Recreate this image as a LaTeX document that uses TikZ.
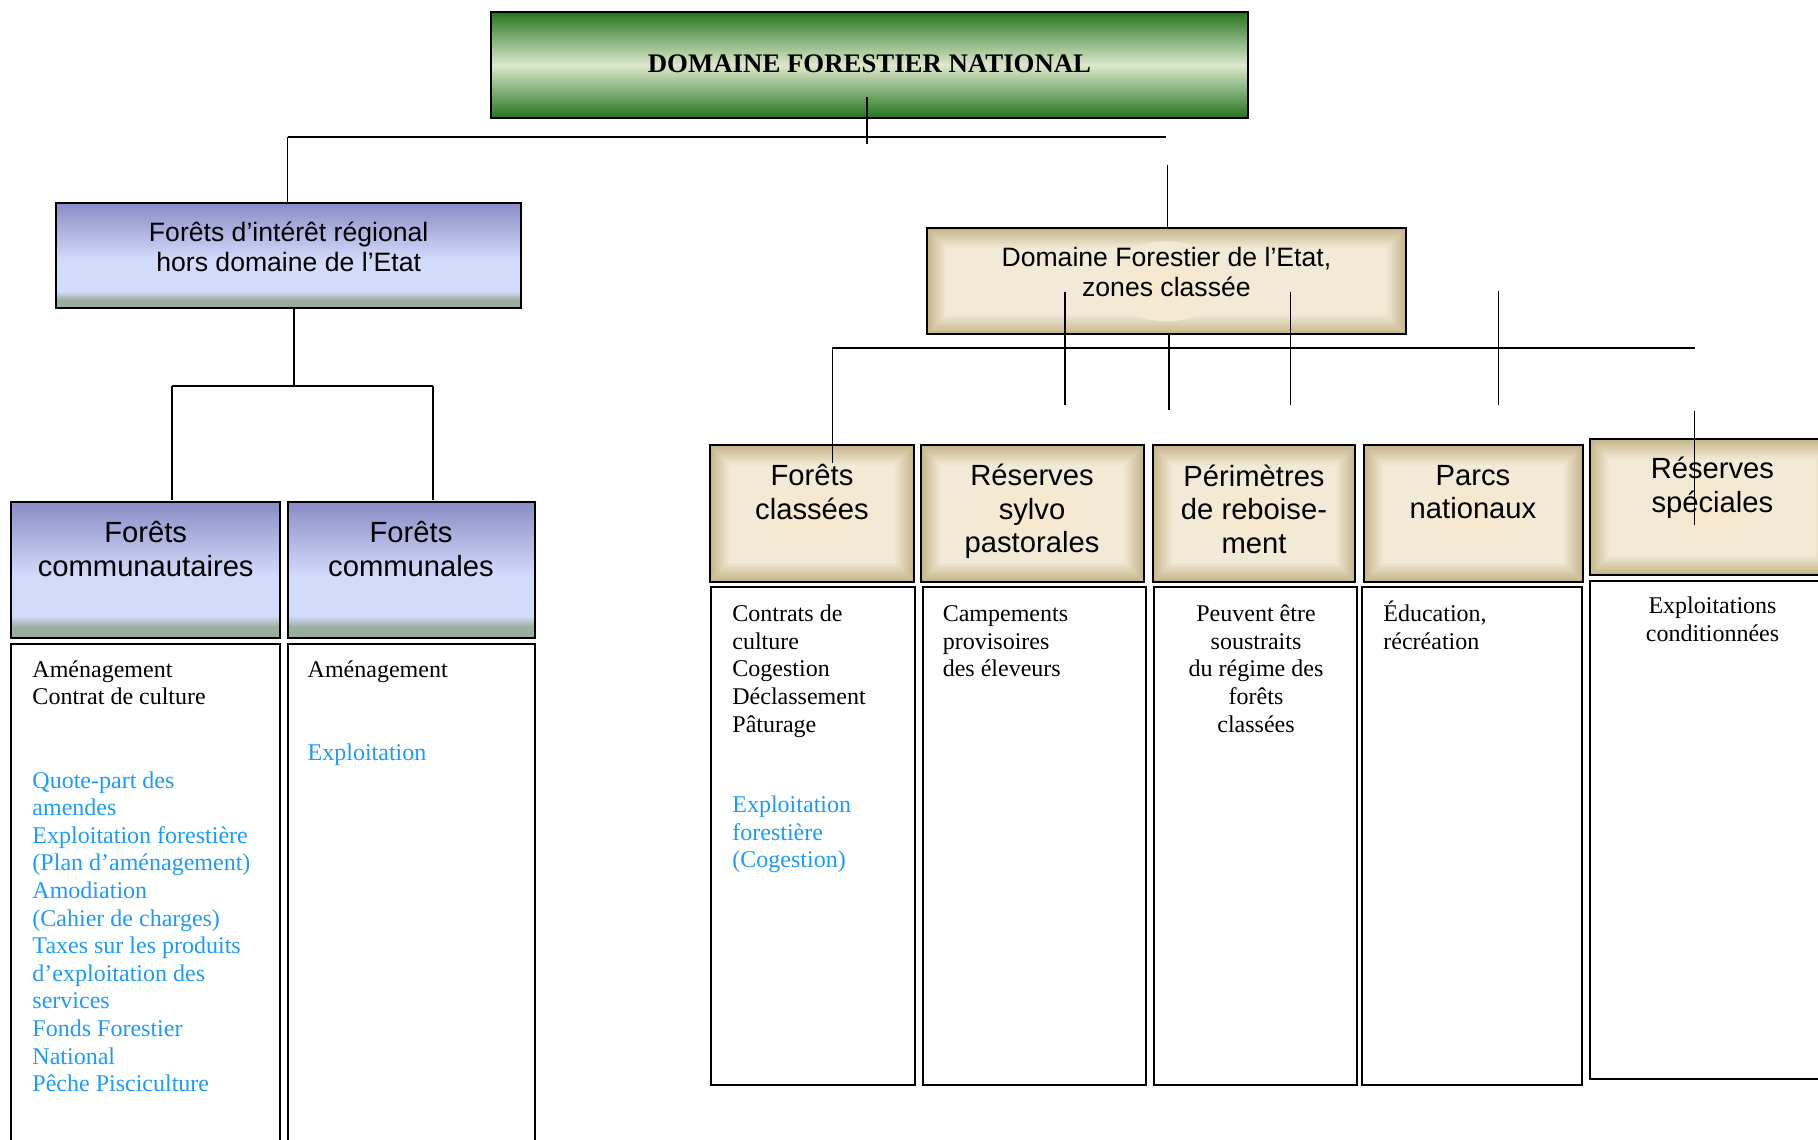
\documentclass[tikz,border=0pt]{standalone}
\usepackage{fontspec}
\setmainfont{Liberation Serif}
\setsansfont{Liberation Sans}
\usetikzlibrary{calc}
\definecolor{gD}{HTML}{23741F}
\definecolor{gL}{HTML}{DCE8CB}
\definecolor{bT}{HTML}{8A8CC6}
\definecolor{bL}{HTML}{D1DBFA}
\definecolor{bB}{HTML}{9AAE9F}
\definecolor{tD}{HTML}{C6B68C}
\definecolor{tL}{HTML}{F2EAD6}
\definecolor{tP}{HTML}{F9E9CC}
\definecolor{lblue}{RGB}{30,155,250}
\pgfdeclareverticalshading{blueshade}{100bp}{color(0bp)=(bB); color(25bp)=(bB); color(29bp)=(bB); color(33bp)=(bL); color(48bp)=(bL); color(75bp)=(bT); color(100bp)=(bT)}
\tikzset{
 bx/.style={anchor=north west, inner sep=0pt, outer sep=0pt, draw=black, line width=1pt},
 greenbox/.style={bx, top color=gD, bottom color=gD, middle color=gL},
 bluebox/.style={bx, shading=blueshade},
 tanbox/.style={bx, fill=tD, path picture={
   \foreach \i in {0,...,12}{
     \pgfmathtruncatemacro\pc{\i*100/12}
     \fill[tL!\pc!tD] ([shift={(\i*0.8pt,\i*0.8pt)}]path picture bounding box.south west) rectangle ([shift={(-\i*0.8pt,-\i*0.8pt)}]path picture bounding box.north east);
   }
   \shade[inner color=tP, outer color=tL] (path picture bounding box.center) ellipse (30pt and 20pt);
 }},
 cbox/.style={bx, fill=white},
 conn/.style={draw=black, line width=0.8pt},
 hdA/.style={font=\fontsize{14.6}{16.8}\selectfont\sffamily, align=center, inner sep=0pt},
 hdB/.style={font=\fontsize{13.3}{15.2}\selectfont\sffamily, align=center, inner sep=0pt},
 body/.style={font=\fontsize{12}{13.8}\selectfont, align=left, inner sep=0pt, anchor=north west},
 bodyc/.style={font=\fontsize{12}{13.8}\selectfont, align=center, inner sep=0pt, anchor=north},
}
\newcommand\mkbox[6]{\node[#2, minimum width={(#5-#3)*0.5pt}, minimum height={(#6-#4)*0.5pt}] (#1) at (#3,#4) {};}
\begin{document}
\begin{tikzpicture}[x=0.5pt,y=-0.5pt]
\useasboundingbox (0,0) rectangle (1818,1139);
\fill[white] (0,0) rectangle (1818,1139);
\clip (0,0) rectangle (1818,1139);
% boxes
\mkbox{top}{greenbox}{491.4}{11.6}{1247.7}{118.3}
\mkbox{fir}{bluebox}{56.4}{203}{521.4}{308.4}
\mkbox{fcom}{bluebox}{11.4}{502.3}{280}{637.7}
\mkbox{fcomm}{bluebox}{287.9}{502.3}{534.6}{637.7}
\mkbox{ccom}{cbox}{11.4}{644.3}{280}{1160}
\mkbox{ccomm}{cbox}{287.9}{644.3}{534.6}{1160}
\mkbox{dfe}{tanbox}{926.7}{228.3}{1405.9}{334.3}
\mkbox{fcl}{tanbox}{710}{445.3}{913.9}{581.7}
\mkbox{rsp}{tanbox}{921}{445.3}{1143.5}{581.7}
\mkbox{prb}{tanbox}{1152.8}{445.3}{1355.3}{581.7}
\mkbox{pn}{tanbox}{1363.8}{445.3}{1582.7}{581.7}
\mkbox{rs}{tanbox}{1589.8}{439.3}{1835}{575}
\mkbox{cfcl}{cbox}{711.4}{587.3}{915.3}{1085}
\mkbox{crsp}{cbox}{922.5}{587.3}{1146.3}{1085}
\mkbox{cprb}{cbox}{1154.2}{587.3}{1357.4}{1085}
\mkbox{cpn}{cbox}{1362.4}{587.3}{1582}{1085}
\mkbox{crs}{cbox}{1589.8}{581}{1840}{1078.7}
% headings
\node[font=\fontsize{13.4}{16}\selectfont\bfseries, inner sep=0pt] (toptx) at (869.5,64) {DOMAINE FORESTIER NATIONAL};
\node[hdB] (firtx) at (288.7,247) {Forêts d’intérêt régional\\hors domaine de l’Etat};
\node[hdB] (dfetx) at (1166.4,271.8) {Domaine Forestier de l’Etat,\\zones classée};
\node[hdA] (fcomtx) at (145.7,549) {Forêts\\communautaires};
\node[hdA] (fcommtx) at (411,549) {Forêts\\communales};
\node[hdA] (fcltx) at (812,492) {Forêts\\classées};
\node[hdA] (rsptx) at (1032,511.3) {Réserves\\sylvo\\pastorales};
\node[hdA] (prbtx) at (1254,509) {Périmètres\\de reboise-\\ment};
\node[hdA] (pntx) at (1473,492) {Parcs\\nationaux};
\node[hdA] (rstx) at (1712.4,487.5) {Réserves\\spéciales};
% contents
\node[body] (t1) at (32.1,657.6) {\strut Aménagement\\Contrat de culture};
\node[body, text=lblue] (t1b) at (32.1,768.4) {\strut Quote-part des\\amendes\\Exploitation forestière\\(Plan d’aménagement)\\Amodiation\\(Cahier de charges)\\Taxes sur les produits\\d’exploitation des\\services\\Fonds Forestier\\National\\Pêche Pisciculture};
\node[body] (t2) at (307.3,657.6) {\strut Aménagement};
\node[body, text=lblue] (t2b) at (307.3,740.7) {\strut Exploitation};
\node[body] (t3) at (732,602) {\strut Contrats de\\culture\\Cogestion\\Déclassement\\Pâturage};
\node[body, text=lblue] (t3b) at (732,793) {\strut Exploitation\\forestière\\(Cogestion)};
\node[body] (t4) at (942.4,602) {\strut Campements\\provisoires\\des éleveurs};
\node[bodyc] (t5) at (1256,602) {\strut Peuvent être\\soustraits\\du régime des\\forêts\\classées};
\node[body] (t6) at (1383,602) {\strut\smash{É}ducation,\\récréation};
\node[bodyc] (t7) at (1712.5,594) {\strut Exploitations\\conditionnées};
% connectors
\coordinate (a1) at (867,97);
\coordinate (a2) at (867,144);
\draw[conn] (a1) -- (a2);
\coordinate (hL) at (287.5,137);
\coordinate (hR) at (1166,137);
\draw[conn] (hL) -- (hR);
\draw[conn] (hL) -- (fir.north -| hL);
\coordinate (vR) at (1167.5,164.6);
\draw[conn] (vR) -- (dfe.north -| vR);
\coordinate (f1) at (293.9,385.7);
\draw[conn] (fir.south -| f1) -- (f1);
\coordinate (f2) at (171.8,385.7);
\coordinate (f3) at (432.9,385.7);
\draw[conn] (f2) -- (f3);
\draw[conn] (f2) -- ($(fcom.north -| f2)+(0,-2)$);
\draw[conn] (f3) -- ($(fcomm.north -| f3)+(0,-2)$);
\coordinate (r1) at (832.6,347.7);
\coordinate (r2) at (1694.6,347.7);
\coordinate (r3) at (832.6,463);
\draw[conn] (r3) -- (r1) -- (r2);
\coordinate (s1a) at (1065,291.7);   \coordinate (s1b) at (1065,405.3);
\coordinate (s2b) at (1169.2,410);
\coordinate (s3a) at (1290.4,291.7); \coordinate (s3b) at (1290.4,405.3);
\coordinate (s4a) at (1498.6,291);   \coordinate (s4b) at (1498.6,405.3);
\coordinate (s5a) at (1694.6,410.7); \coordinate (s5b) at (1694.6,525);
\draw[conn] (s1a) -- (s1b);
\draw[conn] (dfe.south -| s2b) -- (s2b);
\draw[conn] (s3a) -- (s3b);
\draw[conn] (s4a) -- (s4b);
\draw[conn] (s5a) -- (s5b);
\end{tikzpicture}
\end{document}
